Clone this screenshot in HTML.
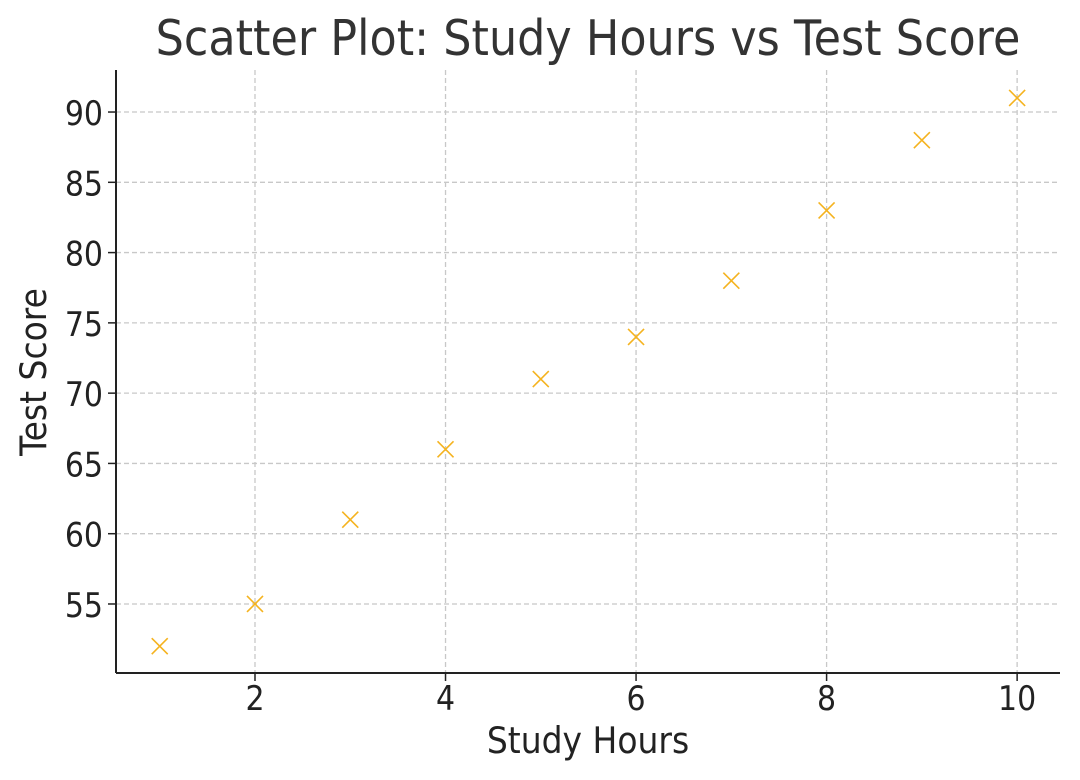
<!DOCTYPE html>
<html><head><meta charset="utf-8"><style>
html,body{margin:0;padding:0;background:#fff;}
svg{display:block;font-family:"DejaVu Sans","Liberation Sans",sans-serif;}
</style></head><body>
<svg id="chart" width="1080" height="780" viewBox="0 0 1080 780">
<text transform="translate(588,55) scale(1,1.1)" text-anchor="middle" font-size="44.5" fill="#333">Scatter Plot: Study Hours vs Test Score</text>
<g id="grid"></g>
<g id="axes"></g>
<g id="points"></g>
<text transform="translate(588,753) scale(1,1.1)" text-anchor="middle" font-size="33" fill="#222">Study Hours</text>
<text transform="translate(46,372) rotate(-90) scale(1,1.1)" text-anchor="middle" font-size="33" fill="#222">Test Score</text>
</svg>
<script>
const hours=[1,2,3,4,5,6,7,8,9,10];
const scores=[52,55,61,66,71,74,78,83,88,91];
const xTicks=[2,4,6,8,10];
const yTicks=[55,60,65,70,75,80,85,90];
const L=116,R=1060,T=70,B=673;
const xMin=0.541,xMax=10.45,yMin=50.09,yMax=92.99;
const sx=v=>L+(v-xMin)/(xMax-xMin)*(R-L);
const sy=v=>B-(v-yMin)/(yMax-yMin)*(B-T);
const NS="http://www.w3.org/2000/svg";
function mk(tag,attrs,parent){const e=document.createElementNS(NS,tag);for(const k in attrs)e.setAttribute(k,attrs[k]);parent.appendChild(e);return e;}
const grid=document.getElementById('grid'),axes=document.getElementById('axes'),pts=document.getElementById('points');
xTicks.forEach(t=>{const x=sx(t);
const g=mk('line',{x1:x,x2:x,y1:T,y2:B,stroke:'#c8c8c8','stroke-width':1.3,'stroke-dasharray':'5,3'},grid);


const tk=mk('line',{x1:x,x2:x,y1:B,y2:B+8,stroke:'#222','stroke-width':1.5},axes);


const lb=mk('text',{transform:`translate(${x},${B+37}) scale(1,1.12)`,'text-anchor':'middle','font-size':30,fill:'#222'},axes);lb.textContent=t;

});
yTicks.forEach(t=>{const y=sy(t);
const g=mk('line',{x1:L,x2:R,y1:y,y2:y,stroke:'#c8c8c8','stroke-width':1.3,'stroke-dasharray':'5,3'},grid);


const tk=mk('line',{x1:L-8,x2:L,y1:y,y2:y,stroke:'#222','stroke-width':1.5},axes);


const lb=mk('text',{transform:`translate(${L-13},${y+13}) scale(1,1.12)`,'text-anchor':'end','font-size':30,fill:'#222'},axes);lb.textContent=t;

});
const sp1=mk('line',{x1:L,x2:L,y1:T,y2:B,stroke:'#222','stroke-width':2},axes);


const sp2=mk('line',{x1:L,x2:R,y1:B,y2:B,stroke:'#222','stroke-width':2},axes);


hours.forEach((h,i)=>{const x=sx(h),y=sy(scores[i]),r=8;
const p=mk('path',{d:`M${x-r},${y-r}L${x+r},${y+r}M${x-r},${y+r}L${x+r},${y-r}`,stroke:'#f5b31f','stroke-width':1.6,fill:'none'},pts);

});
</script>
</body></html>
